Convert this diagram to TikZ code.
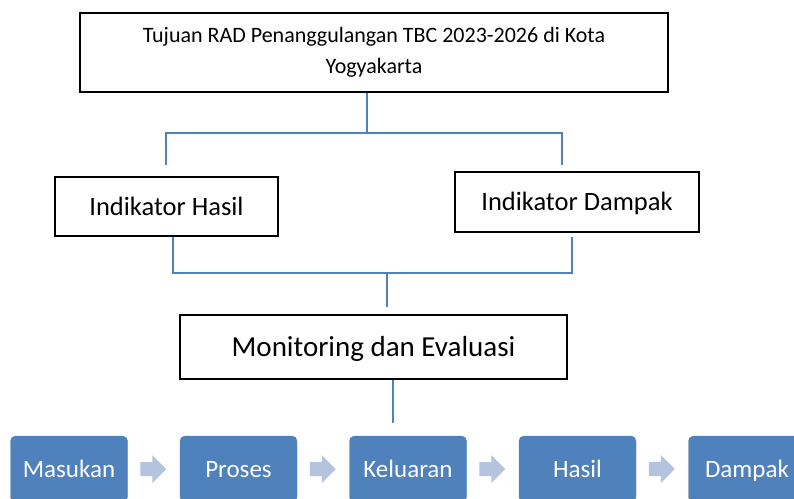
\documentclass[tikz,border=0pt]{standalone}
\usepackage{fontspec}
\setmainfont{Carlito}
\usepackage{tikz}
\usetikzlibrary{positioning}
\definecolor{accent}{HTML}{4F81BD}
\definecolor{chevfill}{HTML}{B4C3DE}

\begin{document}
\begin{tikzpicture}[x=1pt, y=-1pt,
  box/.style={draw=black, line width=1.2pt, align=center, inner sep=0pt},
  stage/.style={fill=accent, draw=accent, rounded corners=5pt, text=white, minimum width=117pt, minimum height=66pt,
    inner sep=0pt, text height=22.5pt, text depth=6.25pt, font=\fontsize{25}{30}\selectfont},
  link/.style={draw=accent, line width=2pt},
  chev/.style={fill=chevfill}
]
\clip (0,0) rectangle (794,498);

\node[box, minimum width=588pt, minimum height=79pt, font=\fontsize{22}{31}\selectfont] at (374,52.5) (goal)
  {Tujuan RAD Penanggulangan TBC 2023-2026 di Kota\\Yogyakarta};
\node[box, minimum width=223pt, minimum height=59pt, text height=23.9pt, text depth=6.6pt,
  font=\fontsize{26.5}{32}\selectfont] at (166.5,206.5) (hasil) {Indikator Hasil};
\node[box, minimum width=244pt, minimum height=60pt, text height=23.9pt, text depth=6.6pt,
  font=\fontsize{26.5}{32}\selectfont] at (577,202) (dampak) {Indikator Dampak};
\node[box, minimum width=387pt, minimum height=64pt, text height=26.1pt, text depth=7.25pt,
  font=\fontsize{29}{34}\selectfont] at (373.5,347) (monev) {Monitoring dan Evaluasi};

\foreach \name/\label [count=\i from 0] in {masukan/Masukan, proses/Proses, keluaran/Keluaran, hsl/Hasil, dmp/Dampak}
  \node[stage] at (69+169.5*\i,469) (\name) {\label};

\foreach \a/\b in {masukan/proses, proses/keluaran, keluaran/hsl, hsl/dmp} {
  \path (\a.east) -- (\b.west) coordinate[midway] (m-\a);
  \fill[chev] (m-\a) ++(-13.5,-7) -- ++(12,0) -- ++(0,-7) -- ++(14,14) -- ++(-14,14) -- ++(0,-7) -- ++(-12,0) -- cycle;
}

\coordinate (jtop) at (367,133);
\coordinate (jl) at (166,165);
\coordinate (jr) at (562,165);
\coordinate (jbot) at (387,273);
\coordinate (jmon) at (387,307);
\coordinate (jstage) at (393,423);

\draw[link] (goal.south -| jtop) -- (jtop);
\draw[link] (jl) -- (jl |- jtop) -- (jr |- jtop) -- (jr);
\draw[link] ([xshift=6.5pt]hasil.south) |- (jbot) -| ([shift={(-5pt,-4pt)}]dampak.south);
\draw[link] (jbot) -- (jmon);
\draw[link] (monev.south -| jstage) -- (jstage);
\end{tikzpicture}
\end{document}
